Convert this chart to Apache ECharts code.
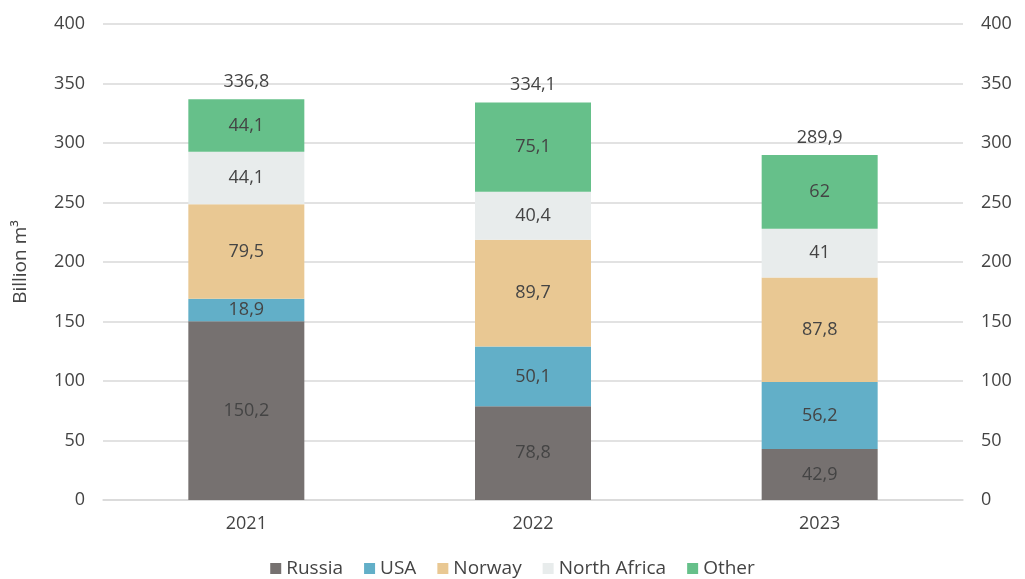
<!DOCTYPE html>
<html>
<head>
<meta charset="utf-8">
<script src="https://cdn.jsdelivr.net/npm/echarts@6/dist/echarts.min.js"></script>
<style>
  html, body { margin: 0; padding: 0; background: #fff; }
  #main { width: 1025px; height: 579px; }
</style>
</head>
<body>
<div id="main"></div>
<script>
var years = ['2021', '2022', '2023'];
var russia = [150.2, 78.8, 42.9];
var usa = [18.9, 50.1, 56.2];
var norway = [79.5, 89.7, 87.8];
var northAfrica = [44.1, 40.4, 41];
var other = [44.1, 75.1, 62];
var totals = [336.8, 334.1, 289.9];

var textColor = '#444444';
var font = 'Open Sans';

function comma(v) {
  return String(v).replace('.', ',');
}

function stackSeries(name, data, color) {
  return {
    name: name,
    type: 'bar',
    stack: 'total',
    barWidth: 116,
    data: data,
    itemStyle: { color: color },
    label: {
      show: true,
      position: 'inside',
      color: textColor,
      fontSize: 18,
      fontFamily: font,
      formatter: function (p) { return comma(p.value); }
    }
  };
}

var myChart = echarts.init(document.getElementById('main'));
myChart.setOption({
  animation: false,
  grid: { left: 103, right: 62, top: 24, bottom: 79 },
  legend: {
    top: 554,
    left: 'center',
    icon: 'rect',
    itemWidth: 11,
    itemHeight: 11,
    itemGap: 21,
    textStyle: { color: textColor, fontSize: 19, fontFamily: font },
    data: ['Russia', 'USA', 'Norway', 'North Africa', 'Other']
  },
  xAxis: {
    type: 'category',
    data: years,
    axisLine: { lineStyle: { color: '#d9d9d9', width: 1.5 } },
    axisTick: { show: false },
    axisLabel: { color: textColor, fontSize: 18, fontFamily: font, margin: 15 }
  },
  yAxis: [
    {
      type: 'value',
      min: 0,
      max: 400,
      interval: 50,
      name: 'Billion m³',
      nameLocation: 'middle',
      nameGap: 73,
      nameTextStyle: { color: textColor, fontSize: 19, fontFamily: font },
      splitLine: { lineStyle: { color: '#d9d9d9', width: 1.5 } },
      axisLabel: { color: textColor, fontSize: 18, fontFamily: font, margin: 18 }
    },
    {
      type: 'value',
      min: 0,
      max: 400,
      interval: 50,
      position: 'right',
      splitLine: { show: false },
      axisLabel: { color: textColor, fontSize: 18, fontFamily: font, margin: 18 }
    }
  ],
  series: [
    stackSeries('Russia', russia, '#767170'),
    stackSeries('USA', usa, '#62afc8'),
    stackSeries('Norway', norway, '#e9c893'),
    stackSeries('North Africa', northAfrica, '#e8ecec'),
    stackSeries('Other', other, '#66c08a'),
    {
      name: 'Total',
      type: 'scatter',
      data: totals,
      symbolSize: 1,
      itemStyle: { color: 'rgba(0,0,0,0)', opacity: 1 },
      silent: true,
      label: {
        show: true,
        position: 'top',
        distance: 8,
        color: textColor,
        fontSize: 18,
        fontFamily: font,
        formatter: function (p) { return comma(p.value); }
      }
    }
  ]
});
</script>
</body>
</html>
